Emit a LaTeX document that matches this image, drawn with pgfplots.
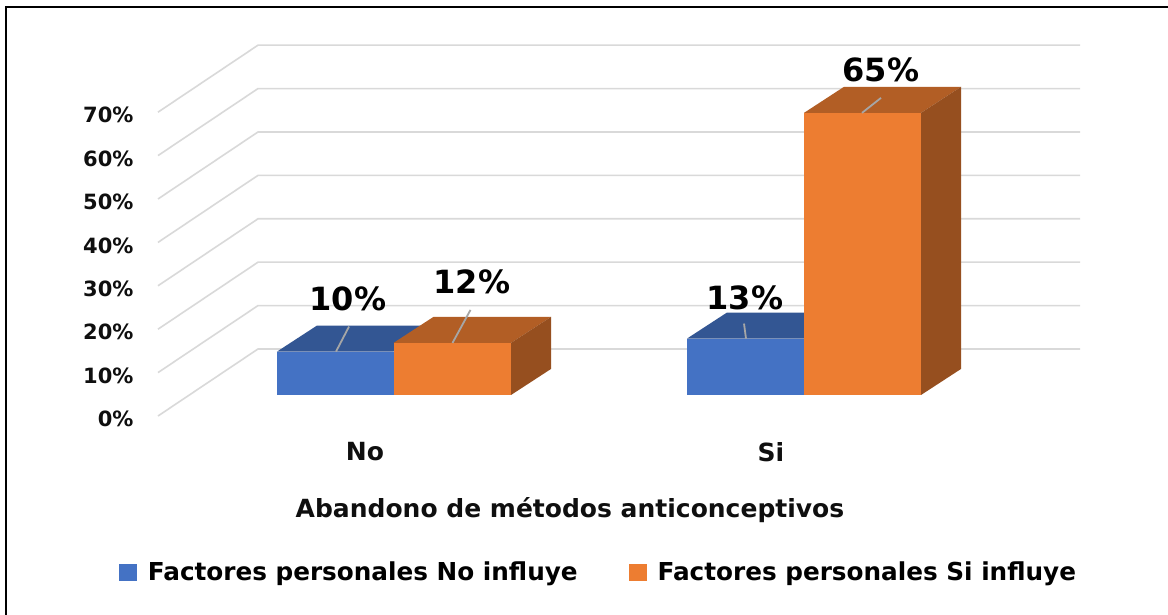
\documentclass[border=0pt]{standalone}
\usepackage{fontspec}
\setmainfont{DejaVu Sans}
\usepackage{pgfplots}
\pgfplotsset{compat=1.18}
\definecolor{barblue}{RGB}{68,114,196}
\definecolor{bluetop}{RGB}{51,86,147}
\definecolor{barorange}{RGB}{237,125,49}
\definecolor{orangetop}{RGB}{178,94,37}
\definecolor{orangeside}{RGB}{150,79,31}
\definecolor{gridc}{RGB}{217,217,217}
\definecolor{leader}{RGB}{166,166,166}
\definecolor{textc}{RGB}{15,15,15}

\begin{document}
\begin{tikzpicture}
% picture is 1168x615, 1pt = 1px, origin at front 0% corner (158,416)
\useasboundingbox (-158pt,-199pt) rectangle (1010pt,416pt);
\fill[white] (-158pt,-199pt) rectangle (1010pt,416pt);
\draw[black, line width=2.5pt] (-152pt,-210pt) -- (-152pt,409pt) -- (1020pt,409pt);
\begin{axis}[
  scale only axis, width=922pt, height=370pt,
  xmin=158, xmax=1080, ymin=0, ymax=85.25,
  clip=false,
  axis line style={draw=none},
  major tick length=0pt,
  tick style={draw=none},
  font=\bfseries,
  ytick={0,10,...,70},
  yticklabels={0\%,10\%,20\%,30\%,40\%,50\%,60\%,70\%},
  yticklabel style={font=\fontsize{21}{25}\selectfont\bfseries, text=textc, xshift=-21pt, yshift=-3pt},
  xtick={365,771},
  xticklabels={No,Si},
  xticklabel style={font=\fontsize{25}{29}\selectfont\bfseries, text=textc, yshift=-23pt},
  xlabel={Abandono de métodos anticonceptivos},
  xlabel style={font=\fontsize{25}{29}\selectfont\bfseries, text=textc, at={(axis cs:570,0)}, anchor=center, yshift=-94pt},
  legend style={draw=none, fill=none, at={(axis cs:119,-36)}, anchor=west,
    legend columns=2, font=\fontsize{24.7}{28}\selectfont\bfseries,
    /tikz/every even column/.append style={column sep=49pt},
    /tikz/every odd column/.append style={column sep=9.5pt},
    inner sep=0pt, outer sep=0pt},
  legend cell align=left,
  bar3d/.style={draw=none, forget plot, yshift=21pt},
]
% back wall and side wall gridlines
\pgfplotsinvokeforeach{0,10,...,70}{
  \draw[gridc, line width=1.6pt] (axis cs:158,#1) -- ++(100pt,67pt) -- ++(822pt,0pt);
}
\addlegendimage{legend image code/.code={\fill[barblue] (0pt,-8pt) rectangle (17pt,8pt);}}
\addlegendentry{Factores personales No influye}
\addlegendimage{legend image code/.code={\fill[barorange] (0pt,-8pt) rectangle (17pt,8pt);}}
\addlegendentry{Factores personales Si influye}

% blue No
\addplot[bar3d, fill=bluetop] coordinates {(277,10)(393.5,10)(433.5,16)(317,16)} -- cycle;
\addplot[bar3d, ybar, bar width=116.5, bar shift=0pt, fill=barblue] coordinates {(335.25,10)};
% orange No
\addplot[bar3d, fill=orangetop] coordinates {(393.5,12)(511,12)(551,18)(433.5,18)} -- cycle;
\addplot[bar3d, fill=orangeside] coordinates {(511,0)(551,6)(551,18)(511,12)} -- cycle;
\addplot[bar3d, ybar, bar width=117.5, bar shift=0pt, fill=barorange] coordinates {(452.25,12)};
% blue Si
\addplot[bar3d, fill=bluetop] coordinates {(687,13)(804,13)(844,19)(727,19)} -- cycle;
\addplot[bar3d, ybar, bar width=117, bar shift=0pt, fill=barblue] coordinates {(745.5,13)};
% orange Si
\addplot[bar3d, fill=orangetop] coordinates {(804,65)(921,65)(961,71)(844,71)} -- cycle;
\addplot[bar3d, fill=orangeside] coordinates {(921,0)(961,6)(961,71)(921,65)} -- cycle;
\addplot[bar3d, ybar, bar width=117, bar shift=0pt, fill=barorange] coordinates {(862.5,65)};
% leaders
\begin{scope}[leader, line width=1.8pt]
\draw (axis cs:336,10) ++(0pt,21pt) -- ++(13pt,25pt);
\draw (axis cs:452.5,12) ++(0pt,21pt) -- ++(18pt,33pt);
\draw (axis cs:746,13) ++(0pt,21pt) -- ++(-2pt,15pt);
\draw (axis cs:862,65) ++(0pt,21pt) -- ++(19pt,15pt);
\end{scope}

\begin{scope}[every node/.style={font=\fontsize{32}{36}\selectfont\bfseries, text=black, anchor=center, inner sep=0pt}]
\node at (axis cs:348,27) {10\%};
\node at (axis cs:472,30.9) {12\%};
\node at (axis cs:745,27.3) {13\%};
\node at (axis cs:881,79.7) {65\%};
\end{scope}
\end{axis}
\end{tikzpicture}
\end{document}
